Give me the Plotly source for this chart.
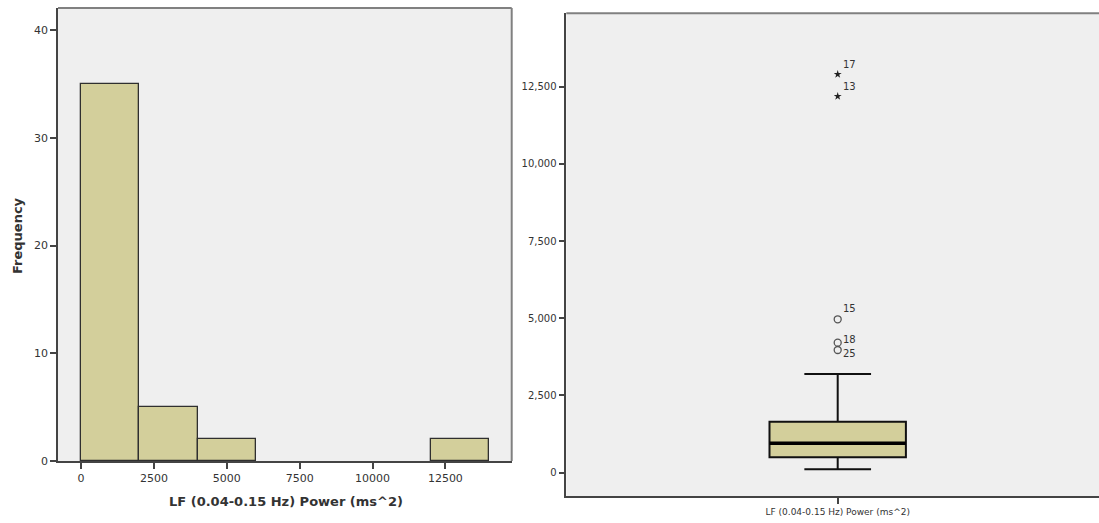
import plotly.graph_objects as go

# Histogram of LF power (bin edges in ms^2, counts per bin)
bin_edges = [0, 2000, 4000, 6000, 8000, 10000, 12000, 14000]
counts = [35, 5, 2, 0, 0, 0, 2]

# Box plot summary of the same variable
box_label = "LF (0.04-0.15 Hz) Power (ms^2)"
q1 = 499
median = 952
q3 = 1652
lower_whisker = 110
upper_whisker = 3196

# Outliers (case number, value)
outlier_ids = ["15", "18", "25"]
outlier_vals = [4968, 4210, 3973]
extreme_ids = ["17", "13"]
extreme_vals = [12901, 12189]

# ---- styling ----
W, H = 1099, 523
FONT = "DejaVu Sans"
TXT = "#333333"
BAR_FILL = "#d3cf9b"
PLOT_BG = "#efefef"
AXIS_COL = "#444444"
FRAME_COL = "#808080"
BOX_W = 0.5026
label_offsets = {"15": 11, "18": 3.5, "25": -3.5, "17": 10, "13": 10}


def px_x(p):
    return p / W


def px_y(p):
    return 1 - p / H


fig = go.Figure()

# histogram bars (empty bins are skipped)
bins = [((a + b) / 2, b - a, c)
        for a, b, c in zip(bin_edges[:-1], bin_edges[1:], counts) if c > 0]
fig.add_trace(go.Bar(
    x=[b[0] for b in bins], y=[b[2] for b in bins], width=[b[1] for b in bins],
    marker=dict(color=BAR_FILL, line=dict(color="#2f2f2f", width=1.3)),
    xaxis="x", yaxis="y", showlegend=False, hoverinfo="x+y",
))

# box plot
fig.add_trace(go.Box(
    x=[0], q1=[q1], median=[median], q3=[q3],
    lowerfence=[lower_whisker], upperfence=[upper_whisker],
    width=BOX_W, whiskerwidth=0.489,
    fillcolor=BAR_FILL, line=dict(color="#111111", width=2),
    boxpoints=False, xaxis="x2", yaxis="y2", showlegend=False,
))
# heavier median line
fig.add_trace(go.Scatter(
    x=[-BOX_W / 2, BOX_W / 2], y=[median, median], mode="lines",
    line=dict(color="#000000", width=3.5),
    xaxis="x2", yaxis="y2", showlegend=False, hoverinfo="skip",
))
# outliers: open circles
fig.add_trace(go.Scatter(
    x=[0] * len(outlier_vals), y=outlier_vals, mode="markers",
    marker=dict(symbol="circle-open", size=7, color="#555555", line=dict(width=1.3)),
    xaxis="x2", yaxis="y2", showlegend=False,
))
# extremes: stars
fig.add_trace(go.Scatter(
    x=[0] * len(extreme_vals), y=extreme_vals, mode="markers",
    marker=dict(symbol="star", size=6, color="#222222"),
    xaxis="x2", yaxis="y2", showlegend=False,
))

annotations = []
for cid, val in list(zip(outlier_ids, outlier_vals)) + list(zip(extreme_ids, extreme_vals)):
    annotations.append(dict(
        x=0, y=val, xref="x2", yref="y2", text=cid, showarrow=False,
        xanchor="left", yanchor="middle", xshift=3, yshift=label_offsets[cid],
        font=dict(family=FONT, size=10, color=TXT),
    ))

# axis titles of the histogram
annotations.append(dict(
    x=px_x(17), y=px_y(236), xref="paper", yref="paper", text="<b>Frequency</b>",
    textangle=-90, showarrow=False, xanchor="center", yanchor="middle",
    font=dict(family=FONT, size=13, color=TXT),
))
annotations.append(dict(
    x=px_x(285.5), y=px_y(501.5), xref="paper", yref="paper",
    text="<b>LF (0.04-0.15 Hz) Power (ms^2)</b>",
    showarrow=False, xanchor="center", yanchor="middle",
    font=dict(family=FONT, size=13, color=TXT),
))

left_dom = [px_x(58), px_x(511.7)]
left_ydom = [px_y(461), px_y(8)]
right_dom = [px_x(566.3), 1.0]
right_ydom = [px_y(496), px_y(13.3)]

shapes = [
    # frame of the histogram (top and right)
    dict(type="line", xref="paper", yref="paper", x0=left_dom[0], x1=left_dom[1],
         y0=left_ydom[1], y1=left_ydom[1], line=dict(color=FRAME_COL, width=2)),
    dict(type="line", xref="paper", yref="paper", x0=left_dom[1], x1=left_dom[1],
         y0=left_ydom[0], y1=left_ydom[1], line=dict(color=FRAME_COL, width=2)),
    # top frame of the box plot
    dict(type="line", xref="paper", yref="paper", x0=right_dom[0], x1=right_dom[1],
         y0=right_ydom[1], y1=right_ydom[1], line=dict(color=FRAME_COL, width=2)),
]

tick_font = dict(family=FONT, size=11, color=TXT)
tick_font_small = dict(family=FONT, size=10, color=TXT)

common = dict(
    ticks="outside", ticklen=6, tickcolor=AXIS_COL, tickwidth=1.5,
    showline=True, linecolor=AXIS_COL, linewidth=1.5,
    showgrid=False, zeroline=False, automargin=False,
)

fig.update_layout(
    width=W, height=H,
    margin=dict(l=0, r=0, t=0, b=0, autoexpand=False),
    paper_bgcolor="white",
    plot_bgcolor=PLOT_BG,
    bargap=0,
    xaxis=dict(
        domain=left_dom, anchor="y", range=[-789, 14775],
        tickvals=[0, 2500, 5000, 7500, 10000, 12500], tickformat="d",
        tickfont=tick_font, **common,
    ),
    yaxis=dict(
        domain=left_ydom, anchor="x", range=[0, 42.06],
        tickvals=[0, 10, 20, 30, 40], tickfont=tick_font, **common,
    ),
    xaxis2=dict(
        domain=right_dom, anchor="y2", range=[-1, 0.9628],
        tickvals=[0], ticktext=[box_label],
        tickfont=dict(family=FONT, size=9, color=TXT), **common,
    ),
    yaxis2=dict(
        domain=right_ydom, anchor="x2", range=[-755, 14877],
        tickvals=[0, 2500, 5000, 7500, 10000, 12500], tickformat=",",
        tickfont=tick_font_small, **common,
    ),
    annotations=annotations,
    shapes=shapes,
)

fig.write_html("out.html")
